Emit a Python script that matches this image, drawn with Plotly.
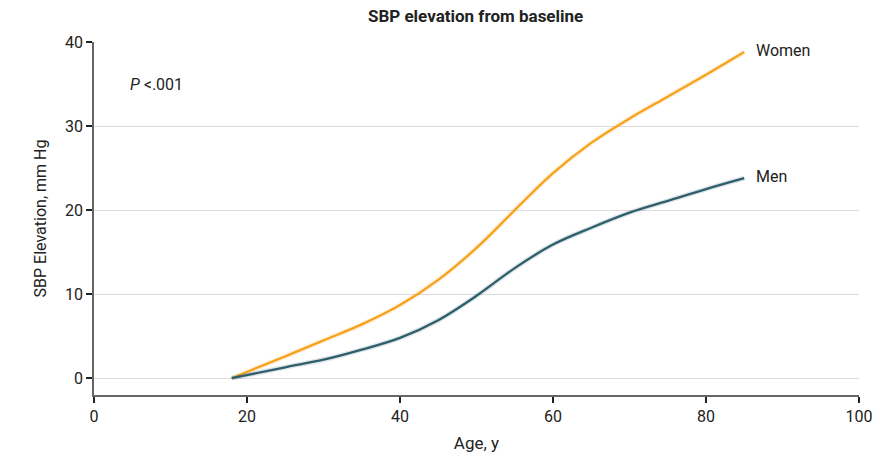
import plotly.graph_objects as go

ages = [18, 25, 30, 35, 40, 45, 50, 55, 60, 65, 70, 75, 80, 85]
women = [0, 2.6, 4.5, 6.4, 8.7, 11.7, 15.5, 20.0, 24.4, 28.0, 30.9, 33.5, 36.1, 38.8]
men = [0, 1.3, 2.2, 3.4, 4.8, 6.9, 9.8, 13.1, 15.9, 17.9, 19.7, 21.1, 22.5, 23.8]
x_ticks = [0, 20, 40, 60, 80, 100]
y_ticks = [0, 10, 20, 30, 40]

WOMEN_C = "#F7A21B"
MEN_C = "#2E5E6B"
FONT = "Liberation Sans Narrow, Roboto, Arial, sans-serif"

fig = go.Figure()
for vals, col, name in [(women, WOMEN_C, "Women"), (men, MEN_C, "Men")]:
    # faint confidence halo
    fig.add_trace(go.Scatter(x=ages, y=vals, mode="lines", hoverinfo="skip",
                             line=dict(color=col, width=5, shape="spline", smoothing=1.0),
                             opacity=0.15))
    fig.add_trace(go.Scatter(x=ages, y=vals, mode="lines", name=name,
                             line=dict(color=col, width=2.3, shape="spline", smoothing=1.0)))

fig.add_annotation(x=ages[-1], y=women[-1], text="Women", showarrow=False,
                   xanchor="left", xshift=10, yshift=2, font=dict(size=16, color="#222"))
fig.add_annotation(x=ages[-1], y=men[-1], text="Men", showarrow=False,
                   xanchor="left", xshift=10, yshift=2, font=dict(size=16, color="#222"))
fig.add_annotation(x=4.5, y=35, text="<i>P</i> <.001", showarrow=False,
                   xanchor="left", font=dict(size=16, color="#222"))

fig.update_layout(
    width=889, height=467,
    margin=dict(l=94, r=30, t=42, b=72),
    paper_bgcolor="white", plot_bgcolor="white",
    showlegend=False,
    font=dict(family=FONT, size=16, color="#222"),
    title=dict(text="<b>SBP elevation from baseline</b>", x=0.535, xanchor="center",
               y=0.965, yanchor="middle", font=dict(size=17, color="#222")),
    xaxis=dict(range=[0, 100], tickvals=x_ticks, showgrid=False, zeroline=False,
               showline=True, linecolor="#666", linewidth=1.5,
               ticks="outside", ticklen=6, tickcolor="#222", tickwidth=1.5,
               title=dict(text="Age, y", standoff=12, font=dict(size=17))),
    yaxis=dict(range=[-2, 40], tickvals=y_ticks, showgrid=True, gridcolor="#dcdcdc",
               gridwidth=1.2, zeroline=False,
               showline=True, linecolor="#666", linewidth=1.5,
               ticks="outside", ticklen=6, tickcolor="#222", tickwidth=1.5,
               title=dict(text="SBP Elevation, mm Hg", standoff=14, font=dict(size=16))),
)

fig.write_html("out.html")
